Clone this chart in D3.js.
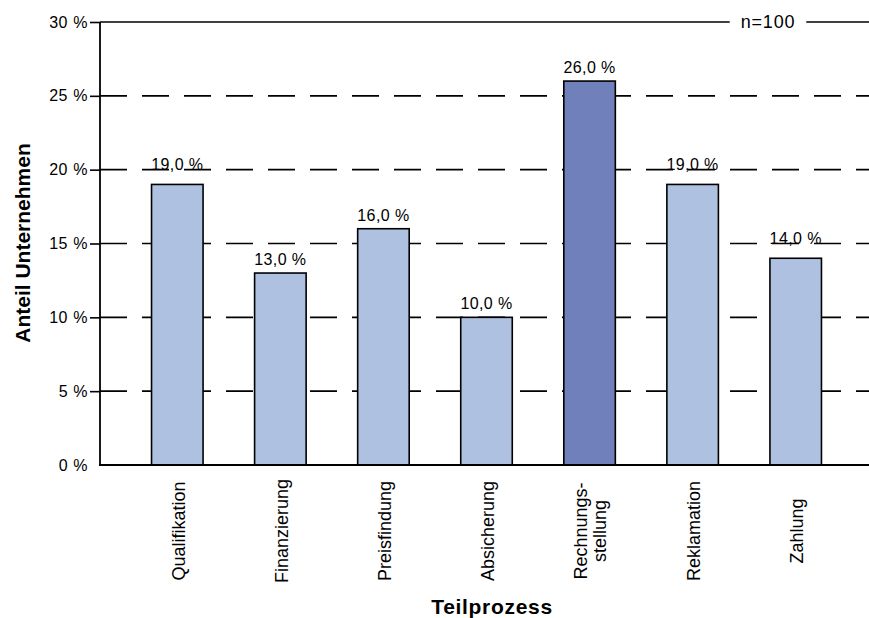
<!DOCTYPE html>
<html>
<head>
<meta charset="utf-8">
<script src="https://cdn.jsdelivr.net/npm/d3@7"></script>
<style>
  body { margin: 0; background: #fff; }
  svg { display: block; font-family: "Liberation Sans", Arial, sans-serif; }
</style>
</head>
<body>
<svg id="chart"></svg>
<script>
const width = 869;
const height = 618;

// Data
const categories = ["Qualifikation", "Finanzierung", "Preisfindung", "Absicherung", "Rechnungsstellung", "Reklamation", "Zahlung"];
const categoryLines = [["Qualifikation"], ["Finanzierung"], ["Preisfindung"], ["Absicherung"], ["Rechnungs-", "stellung"], ["Reklamation"], ["Zahlung"]];
const shares = [19, 13, 16, 10, 26, 19, 14];
const highlighted = ["Rechnungsstellung"];
const yTicks = [0, 5, 10, 15, 20, 25, 30];
const sampleLabel = "n=100";

const svg = d3.select("#chart")
  .attr("width", width)
  .attr("height", height);

const plotLeft = 100;
const plotRight = 873;
const plotTop = 22;
const plotBottom = 465;

const x = d3.scaleBand()
  .domain(categories)
  .range([plotLeft, plotRight])
  .paddingInner(0.5)
  .paddingOuter(0.5);

const y = d3.scaleLinear()
  .domain([0, 30])
  .range([plotBottom, plotTop]);

const fmtTick = d => d + " %";
const fmtValue = d => d3.format(".1f")(d).replace(".", ",") + " %";

// dashed gridlines (behind bars)
const grid = svg.append("g");
grid.selectAll("line")
  .data(yTicks.filter(d => d > 0 && d < 30))
  .enter()
  .append("line")
  .attr("x1", plotLeft)
  .attr("x2", width)
  .attr("y1", d => y(d))
  .attr("y2", d => y(d))
  .attr("stroke", "#000")
  .attr("stroke-width", 1.6)
  .attr("stroke-dasharray", "27,15");

// top solid line with n label
svg.append("line")
  .attr("x1", plotLeft)
  .attr("x2", width)
  .attr("y1", y(30))
  .attr("y2", y(30))
  .attr("stroke", "#000")
  .attr("stroke-width", 1.6);

const nText = svg.append("text")
  .attr("x", 768)
  .attr("y", y(30))
  .attr("dy", "0.36em")
  .attr("text-anchor", "middle")
  .style("font-size", "18px")
  .style("letter-spacing", "0.8px")
  .text(sampleLabel);

const nBox = nText.node().getBBox();
svg.insert("rect", "text")
  .attr("x", nBox.x - 11)
  .attr("y", y(30) - 4)
  .attr("width", nBox.width + 22)
  .attr("height", 8)
  .attr("fill", "#fff");

// y axis
const yAxis = d3.axisLeft(y)
  .tickValues(yTicks)
  .tickSize(10)
  .tickPadding(2)
  .tickFormat(fmtTick);

const yAxisG = svg.append("g")
  .attr("transform", `translate(${plotLeft},0)`)
  .call(yAxis);

yAxisG.select(".domain").remove();
yAxisG.selectAll(".tick line")
  .attr("stroke", "#000")
  .attr("stroke-width", 1.6)
  .attr("display", d => d === 0 ? "none" : null);
yAxisG.selectAll(".tick text")
  .attr("fill", "#000")
  .style("font-size", "16px")
  .style("letter-spacing", "0.6px")
  .style("font-family", "'Liberation Sans', Arial, sans-serif");

// bars
svg.append("g")
  .selectAll("rect")
  .data(categories)
  .enter()
  .append("rect")
  .attr("x", d => x(d))
  .attr("y", (d, i) => y(shares[i]))
  .attr("width", x.bandwidth())
  .attr("height", (d, i) => y(0) - y(shares[i]))
  .attr("fill", d => highlighted.includes(d) ? "#7080bb" : "#aec1e1")
  .attr("stroke", "#000")
  .attr("stroke-width", 1.6);

// axis lines
svg.append("line")
  .attr("x1", plotLeft)
  .attr("x2", plotLeft)
  .attr("y1", y(30))
  .attr("y2", y(0))
  .attr("stroke", "#000")
  .attr("stroke-width", 1.8);

svg.append("line")
  .attr("x1", plotLeft - 1)
  .attr("x2", width)
  .attr("y1", y(0))
  .attr("y2", y(0))
  .attr("stroke", "#000")
  .attr("stroke-width", 2);

// value labels: sit on a gridline when one would cut through them
const gridValues = yTicks.filter(d => d > 0 && d < 30);
function labelBaseline(v) {
  let base = y(v) - 8;
  const hit = gridValues.find(g => y(g) > base - 12 && y(g) < base);
  if (hit !== undefined) base = y(hit);
  return base;
}

svg.append("g")
  .selectAll("text")
  .data(categories)
  .enter()
  .append("text")
  .attr("x", d => x(d) + x.bandwidth() / 2)
  .attr("y", (d, i) => labelBaseline(shares[i]))
  .attr("text-anchor", "middle")
  .style("font-size", "16px")
  .style("letter-spacing", "0.4px")
  .text((d, i) => fmtValue(shares[i]));

// category labels, rotated
const catG = svg.append("g")
  .selectAll("text")
  .data(categories)
  .enter()
  .append("text")
  .attr("transform", d => `translate(${x(d) + x.bandwidth() / 2},531) rotate(-90)`)
  .attr("text-anchor", "middle")
  .style("font-size", "18px");

catG.each(function (d, i) {
  const lines = categoryLines[i];
  const t = d3.select(this);
  lines.forEach((line, j) => {
    t.append("tspan")
      .attr("x", 0)
      .attr("y", lines.length === 1 ? 7.5 : -2.5 + j * 18.5)
      .text(line);
  });
});

// axis titles
svg.append("text")
  .attr("transform", "translate(30,243) rotate(-90)")
  .attr("text-anchor", "middle")
  .style("font-size", "21px")
  .style("font-weight", "bold")
  .text("Anteil Unternehmen");

svg.append("text")
  .attr("x", 492)
  .attr("y", 614)
  .attr("text-anchor", "middle")
  .style("font-size", "21px")
  .style("font-weight", "bold")
  .style("letter-spacing", "0.7px")
  .text("Teilprozess");
</script>
</body>
</html>
